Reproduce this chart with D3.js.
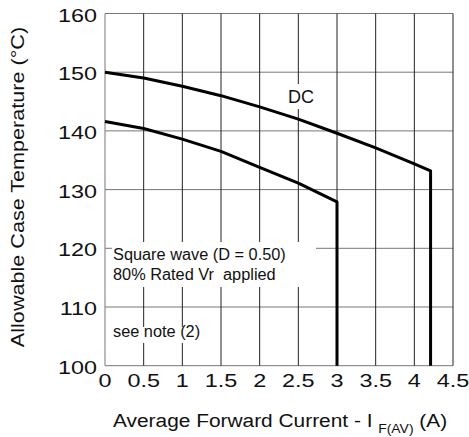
<!DOCTYPE html>
<html>
<head>
<meta charset="utf-8">
<script src="https://cdn.jsdelivr.net/npm/d3@7.9.0/dist/d3.min.js"></script>
<style>
  body { margin: 0; background: #fff; }
  text { font-family: "Liberation Sans", Arial, sans-serif; fill: #111; white-space: pre; }
</style>
</head>
<body>
<svg width="469" height="437"></svg>
<script>
// curve data
const dcCurrent = [0, 0.5, 1, 1.5, 2, 2.5, 3, 3.5, 4, 4.21, 4.21];
const dcTemp = [150, 149.0, 147.6, 146.0, 144.1, 142.0, 139.6, 137.1, 134.4, 133.2, 100];
const sqCurrent = [0, 0.5, 1, 1.5, 2, 2.5, 3, 3];
const sqTemp = [141.6, 140.4, 138.6, 136.5, 133.8, 131.1, 127.9, 100];

const xTicks = [0, 0.5, 1, 1.5, 2, 2.5, 3, 3.5, 4, 4.5];
const yTicks = [100, 110, 120, 130, 140, 150, 160];

let svg = d3.select('svg');

let x = d3.scaleLinear().domain([0, 4.5]).range([105, 453]);
let y = d3.scaleLinear().domain([100, 160]).range([365.7, 13.5]);

// stretched text helper (source font is wider than Arial)
function label(g, tx, ty, str, size, sx, anchor) {
  return g.append('text')
    .attr('transform', `translate(${tx},${ty}) scale(${sx},1)`)
    .attr('font-size', size)
    .attr('text-anchor', anchor || 'start')
    .text(str);
}

// grid
let grid = svg.append('g');
grid.selectAll('.h').data(yTicks).join('line')
  .attr('x1', x(0)).attr('x2', x(4.5))
  .attr('y1', d => y(d)).attr('y2', d => y(d))
  .attr('stroke', '#777').attr('stroke-width', 1);
grid.selectAll('.v').data(xTicks).join('line')
  .attr('y1', y(100)).attr('y2', y(160))
  .attr('x1', d => x(d)).attr('x2', d => x(d))
  .attr('stroke', (d, i) => (i === 0 ? '#777' : '#222')).attr('stroke-width', 1);

// white boxes behind annotations
let boxes = [
  [112, 242, 204, 45],
  [110, 327, 96, 16],
  [283, 84, 32, 25]
];
svg.append('g').selectAll('rect').data(boxes).join('rect')
  .attr('x', d => d[0]).attr('y', d => d[1])
  .attr('width', d => d[2]).attr('height', d => d[3])
  .attr('fill', '#fff');

// curves
let line = d3.line().x(d => x(d[0])).y(d => y(d[1]));
let dc = dcCurrent.map((c, i) => [c, dcTemp[i]]);
let sq = sqCurrent.map((c, i) => [c, sqTemp[i]]);
[dc, sq].forEach(pts => {
  svg.append('path')
    .attr('d', line(pts))
    .attr('fill', 'none')
    .attr('stroke', '#000')
    .attr('stroke-width', 3)
    .attr('stroke-linejoin', 'round');
});

// tick labels
let tl = svg.append('g');
yTicks.forEach(t => label(tl, 97, y(t) + 8, t, 18, 1.3, 'end'));
xTicks.forEach(t => label(tl, x(t), 387, t, 18, 1.3, 'middle'));

// annotations
label(svg, 113, 260, 'Square wave (D = 0.50)', 16, 1.02);
label(svg, 113, 280, '80% Rated Vr  applied', 16, 1.02);
label(svg, 113, 337, 'see note (2)', 16, 1.02);
label(svg, 288, 103, 'DC', 18, 1.0);

// axis titles
let xt = svg.append('text')
  .attr('transform', 'translate(113,427) scale(1.16,1)')
  .attr('font-size', 18);
xt.append('tspan').text('Average Forward Current - I ');
xt.append('tspan').attr('font-size', 12).attr('dy', 6).text('F(AV)');
xt.append('tspan').attr('dy', -6).text(' (A)');

svg.append('text')
  .attr('transform', 'translate(24,187) rotate(-90) scale(1.2,1)')
  .attr('font-size', 18)
  .attr('text-anchor', 'middle')
  .text('Allowable Case Temperature (°C)');
</script>
</body>
</html>
